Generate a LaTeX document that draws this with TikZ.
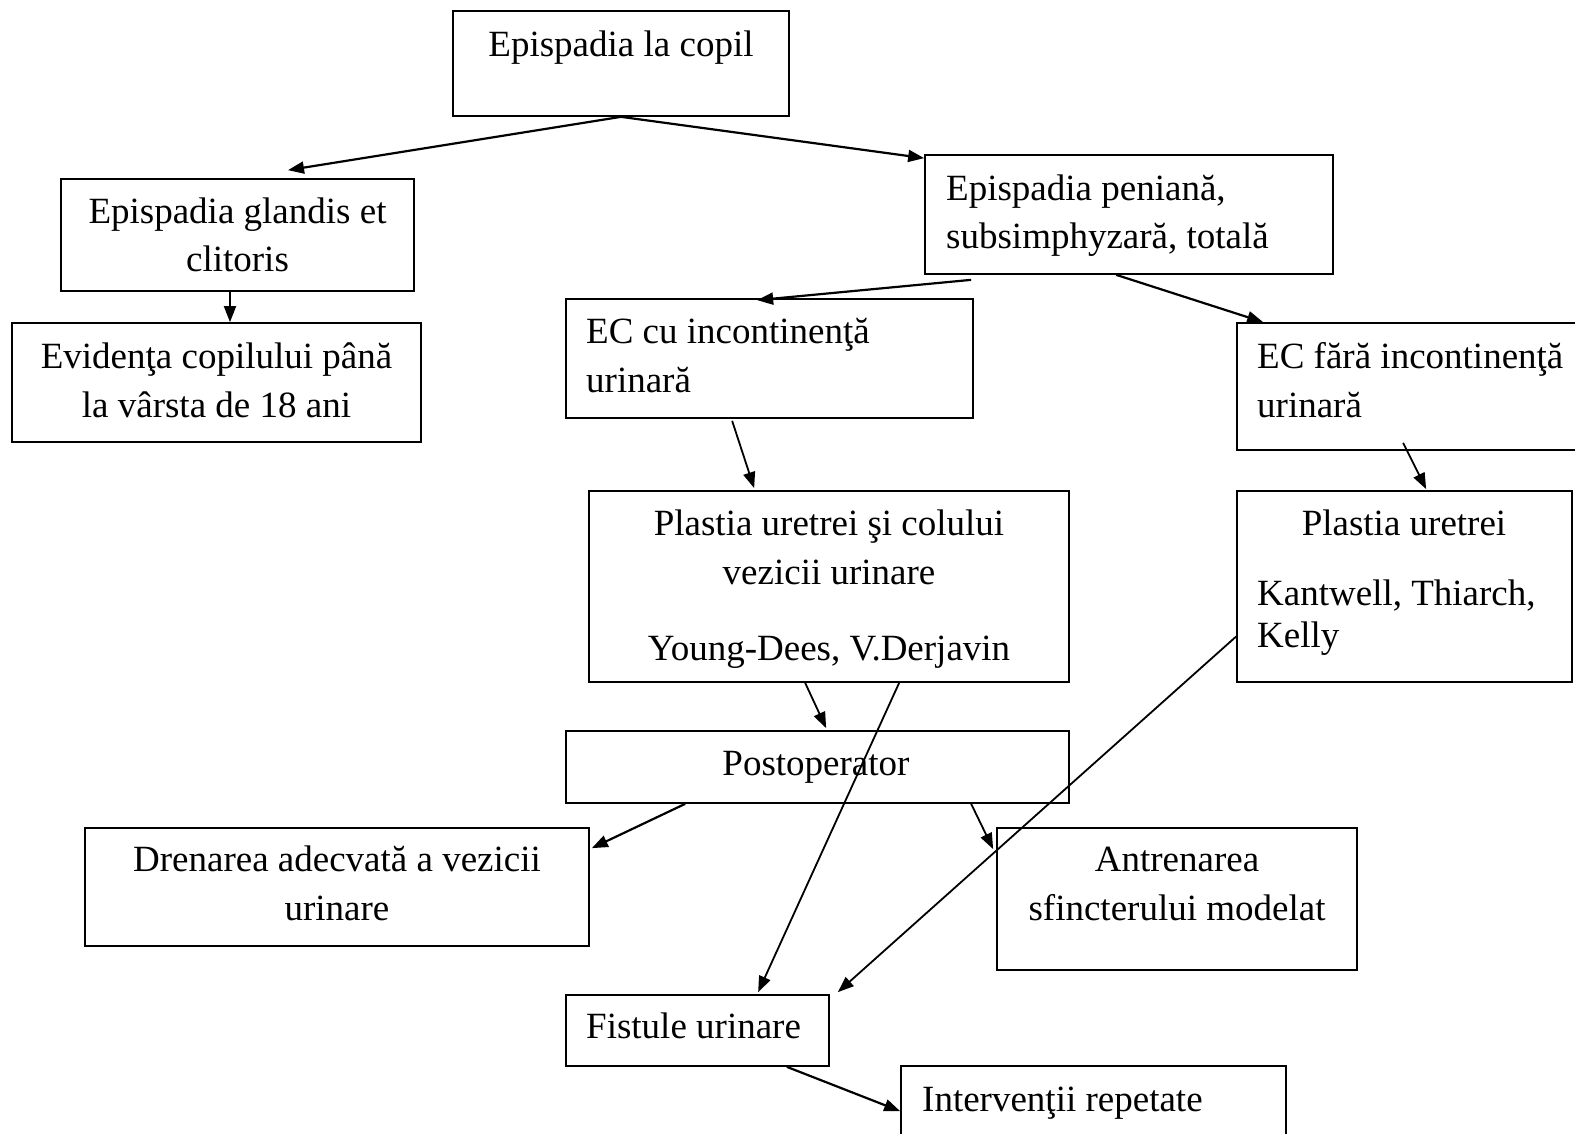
\documentclass[tikz,border=0pt]{standalone}
\usepackage{fontspec}
\setmainfont{Liberation Serif}
\usetikzlibrary{arrows.meta}
\tikzset{
  box/.style={draw, line width=1.7pt, inner sep=0pt, rectangle},
  txt/.style={inner sep=0pt, font=\fontsize{37}{48.5}\selectfont},
  arr/.style={line width=1.8pt, -{Triangle[length=16pt,width=12pt]}},
  arrb/.style={line width=2.2pt, -{Triangle[length=16pt,width=12pt]}}
}
\begin{document}
\begin{tikzpicture}[x=1pt,y=-1pt]
\useasboundingbox (0,0) rectangle (1575,1134);
\clip (0,0) rectangle (1575,1134);
% boxes
\node[box, minimum width=336pt, minimum height=105pt] (top) at (621,63.5) {};
\node[box, minimum width=353pt, minimum height=112pt] (glandis) at (237.5,235) {};
\node[box, minimum width=409pt, minimum height=119pt] (evid) at (216.5,382.5) {};
\node[box, minimum width=408pt, minimum height=119pt] (pen) at (1129,214.5) {};
\node[box, minimum width=407pt, minimum height=119pt] (eccu) at (769.5,358.5) {};
\node[box, minimum width=363pt, minimum height=127pt] (ecfara) at (1418.5,386.5) {};
\node[box, minimum width=480pt, minimum height=191pt] (plL) at (829,586.5) {};
\node[box, minimum width=335pt, minimum height=191pt] (plR) at (1404.5,586.5) {};
\node[box, minimum width=503pt, minimum height=72pt] (post) at (817.5,767) {};
\node[box, minimum width=504pt, minimum height=118pt] (dren) at (337,887) {};
\node[box, minimum width=360pt, minimum height=142pt] (antr) at (1177,899) {};
\node[box, minimum width=263pt, minimum height=71pt] (fist) at (697.5,1030.5) {};
\node[box, minimum width=385pt, minimum height=84pt] (interv) at (1093.5,1108) {};
% texts (base anchor = baseline of the last line)
\node[txt, anchor=base] (t1) at (621,57) {Epispadia la copil};
\node[txt, anchor=base, align=center] (t2) at (237.5,272) {Epispadia glandis et\\clitoris};
\node[txt, anchor=base, align=center] (t3) at (216.5,417) {Evidenţa copilului până\\la vârsta de 18 ani};
\node[txt, anchor=base west, align=left] (t4) at (946,249) {Epispadia peniană,\\subsimphyzară, totală};
\node[txt, anchor=base west, align=left] (t5) at (586,392) {EC cu incontinenţă\\urinară};
\node[txt, anchor=base west, align=left] (t6) at (1257,417) {EC fără incontinenţă\\urinară};
\node[txt, anchor=base, align=center] (t7) at (829,584) {Plastia uretrei şi colului\\vezicii urinare};
\node[txt, anchor=base] (t7b) at (829,660) {Young-Dees, V.Derjavin};
\node[txt, anchor=base] (t8) at (1404,535) {Plastia uretrei};
\node[txt, anchor=base west, align=left, font=\fontsize{37}{42}\selectfont] (t8b) at (1257,647) {Kantwell, Thiarch,\\Kelly};
\node[txt, anchor=base] (t9) at (816,775) {Postoperator};
\node[txt, anchor=base, align=center] (t10) at (337,920) {Drenarea adecvată a vezicii\\urinare};
\node[txt, anchor=base, align=center] (t11) at (1177,920) {Antrenarea\\sfincterului modelat};
\node[txt, anchor=base west] (t12) at (586,1038) {Fistule urinare};
\node[txt, anchor=base west] (t13) at (922,1111) {Intervenţii repetate};
% connectors
\draw[arrb] (top.south) -- ([xshift=50.5pt,yshift=8pt]glandis.north);
\draw[arrb] (top.south) -- ([yshift=-4pt]pen.north west);
\draw[arr] ([xshift=-7.5pt]glandis.south) -- ([xshift=13.5pt]evid.north);
\draw[arrb] ([xshift=47pt,yshift=-5pt]pen.south west) -- ([xshift=192pt,yshift=-2pt]eccu.north west);
\draw[arrb] ([xshift=192pt]pen.south west) -- ([xshift=27pt]ecfara.north west);
\draw[arr] ([xshift=167pt,yshift=-2pt]eccu.south west) -- ([xshift=166pt,yshift=2pt]plL.north west);
\draw[arr] ([xshift=167pt,yshift=8pt]ecfara.south west) -- ([xshift=190pt,yshift=1pt]plR.north west);
\draw[arr] ([xshift=217pt]plL.south west) -- ([xshift=261pt,yshift=2pt]post.north west);
\draw[arr] ([xshift=311pt]plL.south west) -- ([xshift=193pt,yshift=2pt]fist.north west);
\draw[arr] ([yshift=-50pt]plR.west) -- ([xshift=8pt,yshift=2pt]fist.north east);
\draw[arrb] ([xshift=120pt]post.south west) -- ([xshift=2pt,yshift=-21pt]dren.north east);
\draw[arr] ([xshift=406pt]post.south west) -- ([xshift=-3pt,yshift=-22pt]antr.north west);
\draw[arrb] ([xshift=-43pt]fist.south east) -- ([yshift=-46pt]interv.north west);
\end{tikzpicture}
\end{document}
